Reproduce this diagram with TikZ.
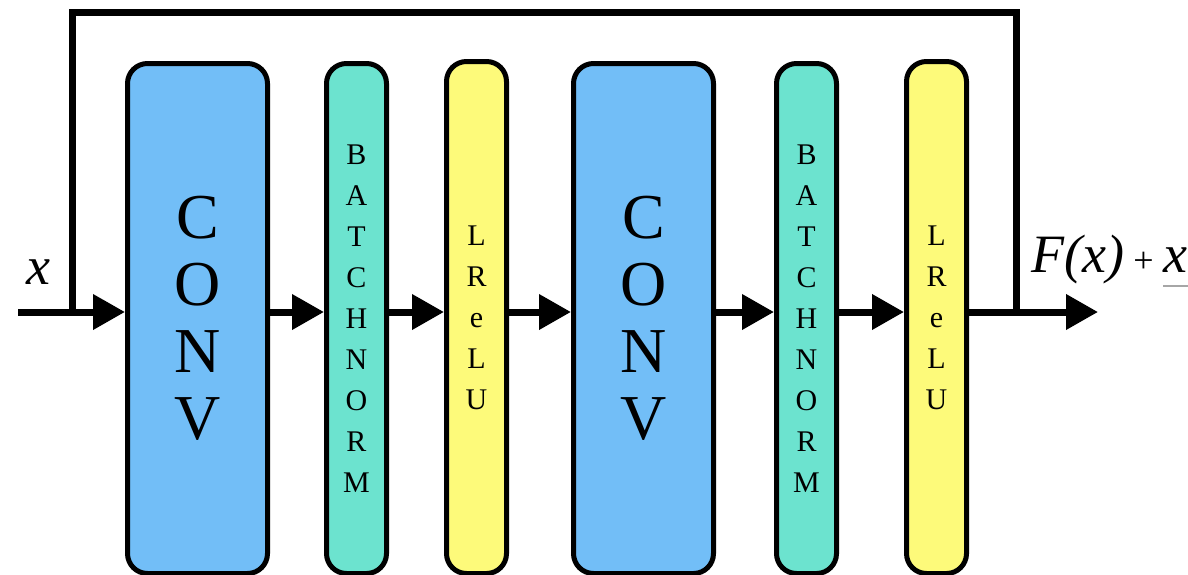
\documentclass[tikz,border=0pt]{standalone}
\usepackage{fontspec}
\setmainfont{Liberation Serif}
\usetikzlibrary{arrows.meta}
\definecolor{convblue}{HTML}{72BEF7}
\definecolor{bnteal}{HTML}{6CE3CF}
\definecolor{actyellow}{HTML}{FDFA7A}
\begin{document}
\begin{tikzpicture}[x=0.5pt,y=-0.5pt,
  layer/.style={draw=black, line width=2.5pt, rounded corners=10pt,
    inner sep=0pt, align=center, anchor=north west},
  convbox/.style={layer, fill=convblue, minimum width=70pt, minimum height=255pt,
    font=\fontsize{32}{33.5}\selectfont},
  bnbox/.style={layer, fill=bnteal, minimum width=30pt, minimum height=255pt,
    font=\fontsize{15}{20.5}\selectfont},
  actbox/.style={layer, fill=actyellow, minimum width=30pt, minimum height=256pt,
    font=\fontsize{15}{20.5}\selectfont},
  flow/.style={line width=3.5pt, -{Triangle[length=16pt,width=17pt]}},
  wire/.style={line width=3.5pt},
  mathlbl/.style={inner sep=0pt, font=\fontsize{27}{27}\selectfont\itshape}]
\useasboundingbox (0,0) rectangle (1188,574);

% processing blocks
\node[convbox] (conv1) at (125,61) {C\\O\\N\\V};
\node[bnbox]   (bn1)   at (324,61) {B\\A\\T\\C\\H\\N\\O\\R\\M};
\node[actbox]  (act1)  at (444,59) {L\\R\\e\\L\\U};
\node[convbox] (conv2) at (571,61) {C\\O\\N\\V};
\node[bnbox]   (bn2)   at (774,61) {B\\A\\T\\C\\H\\N\\O\\R\\M};
\node[actbox]  (act2)  at (904,59) {L\\R\\e\\L\\U};

% input / output points on the main line
\coordinate (in)    at (18,312);
\coordinate (out)   at (1098,312);
\coordinate (split) at (72,312);
\coordinate (merge) at (1016,312);

% main data path
\draw[flow] (in) -- (conv1.west |- in);
\draw[flow] (conv1.east |- in) -- (bn1.west |- in);
\draw[flow] (bn1.east |- in) -- (act1.west |- in);
\draw[flow] (act1.east |- in) -- (conv2.west |- in);
\draw[flow] (conv2.east |- in) -- (bn2.west |- in);
\draw[flow] (bn2.east |- in) -- (act2.west |- in);
\draw[flow] (act2.east |- in) -- (out);

% identity shortcut
\draw[wire, line join=miter] (split) -- (72,12) -- (1016,12) -- (merge);

% labels
\node[mathlbl] (xin) at (38,272) {x};
\node[mathlbl, anchor=base west] (fx) at (1031,272)
  {F(x)\,{\upshape\fontsize{18}{18}\selectfont +}\,};
\node[mathlbl, anchor=base west] (xout) at (fx.base east) {x};
\draw[gray!70, line width=0.6pt] ([yshift=-7pt]xout.base west) -- ([yshift=-7pt]xout.base east);
\end{tikzpicture}
\end{document}
